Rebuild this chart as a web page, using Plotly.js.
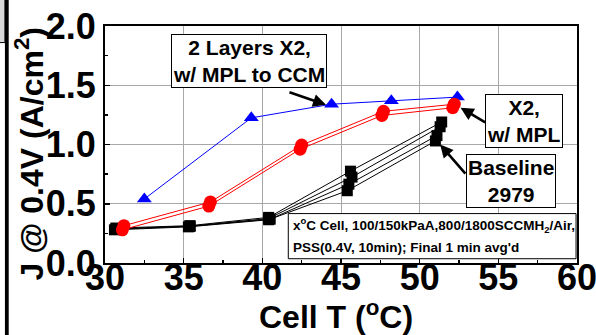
<!DOCTYPE html>
<html>
<head>
<meta charset="utf-8">
<script src="https://cdn.plot.ly/plotly-3.0.1.min.js"></script>
<style>
  html, body { margin: 0; padding: 0; background: #fff; }
  #chart { width: 596px; height: 335px; }
</style>
</head>
<body>
<div id="chart"></div>
<script>
// Current density at 0.4 V versus cell temperature

// 2 Layers X2, w/ MPL to CCM
const ccmT = [32.5, 39.3, 44.4, 48.2, 52.4];
const ccmJ = [0.54, 1.225, 1.34, 1.37, 1.40];

// X2, w/ MPL (two repeat runs)
const mplT1 = [31.2, 36.7, 42.5, 47.7, 52.2];
const mplJ1 = [0.315, 0.515, 0.995, 1.28, 1.34];
const mplT2 = [31.1, 36.6, 42.4, 47.6, 52.1];
const mplJ2 = [0.28, 0.48, 0.96, 1.245, 1.31];

// Baseline 2979 (four runs)
const baseT1 = [30.7, 35.4, 40.4, 45.6, 51.4];
const baseJ1 = [0.295, 0.315, 0.385, 0.775, 1.19];
const baseT2 = [30.7, 35.4, 40.4, 45.7, 51.3];
const baseJ2 = [0.29, 0.31, 0.375, 0.725, 1.15];
const baseT3 = [30.7, 35.4, 40.5, 45.5, 51.1];
const baseJ3 = [0.285, 0.31, 0.37, 0.665, 1.075];
const baseT4 = [30.6, 35.3, 40.4, 45.4, 51.0];
const baseJ4 = [0.28, 0.305, 0.365, 0.61, 1.03];

const xTickVals = [30, 35, 40, 45, 50, 55, 60];
const xTickText = ['30', '35', '40', '45', '50', '55', '60'];
const yTickVals = [0, 0.5, 1.0, 1.5, 2.0];
const yTickText = ['0.0', '0.5', '1.0', '1.5', '2.0'];

const FONT = 'Liberation Sans, Arial, Helvetica, sans-serif';
const NARROW = 'Liberation Sans Narrow, Arial Narrow, Liberation Sans, sans-serif';

function baseTrace(x, y) {
  return {
    x: x, y: y, type: 'scatter', mode: 'lines+markers',
    line: { color: '#000000', width: 1 },
    marker: { symbol: 'square', size: 11, color: '#000000' },
    hoverinfo: 'x+y', showlegend: false
  };
}
function mplTrace(x, y) {
  return {
    x: x, y: y, type: 'scatter', mode: 'lines+markers',
    line: { color: '#ff0000', width: 1 },
    marker: { symbol: 'circle', size: 13, color: '#ff0000' },
    hoverinfo: 'x+y', showlegend: false
  };
}

const traces = [
  baseTrace(baseT1, baseJ1),
  baseTrace(baseT2, baseJ2),
  baseTrace(baseT3, baseJ3),
  baseTrace(baseT4, baseJ4),
  {
    x: ccmT, y: ccmJ, type: 'scatter', mode: 'lines+markers',
    line: { color: '#0000ff', width: 1 },
    marker: { symbol: 'triangle-up', size: 13, color: '#0000ff' },
    hoverinfo: 'x+y', showlegend: false
  },
  mplTrace(mplT1, mplJ1),
  mplTrace(mplT2, mplJ2)
];

const labelFont = { family: FONT, size: 21, color: '#000', weight: 'bold' };
const noteFont = { family: FONT, size: 13.5, color: '#000', weight: 'bold' };
const axisFont = { family: NARROW, size: 36, color: '#000', weight: 'bold' };
const titleFont = { family: NARROW, size: 32, color: '#000', weight: 'bold' };

function box(x, y, text) {
  return {
    xref: 'x', yref: 'y', x: x, y: y, text: text, showarrow: false,
    font: labelFont, align: 'center', bgcolor: '#ffffff',
    bordercolor: '#000000', borderwidth: 1, borderpad: 1
  };
}
function arrow(x, y, ax, ay) {
  return {
    xref: 'x', yref: 'y', axref: 'x', ayref: 'y',
    x: x, y: y, ax: ax, ay: ay, text: '', showarrow: true,
    arrowhead: 2, arrowsize: 1, arrowwidth: 2.6, arrowcolor: '#000000', standoff: 0
  };
}

const layout = {
  width: 596, height: 335,
  margin: { l: 105, r: 19, t: 26, b: 72, pad: 0 },
  paper_bgcolor: '#ffffff', plot_bgcolor: '#ffffff',
  font: { family: FONT, color: '#000' },
  showlegend: false,
  xaxis: {
    range: [30, 60], tickmode: 'array', tickvals: xTickVals, ticktext: xTickText,
    ticks: 'inside', ticklen: 5, tickwidth: 1.5, tickcolor: '#000',
    showline: true, linecolor: '#000', linewidth: 2, mirror: true,
    showgrid: true, gridcolor: '#a8a8a8', gridwidth: 1, zeroline: false,
    tickfont: axisFont, ticklabelstandoff: -18, ticklabeloverflow: 'allow',
    minor: { dtick: 2.5, tick0: 30, ticks: 'inside', ticklen: 3, tickcolor: '#000', showgrid: false },
    automargin: false
  },
  yaxis: {
    range: [0, 2.0], tickmode: 'array', tickvals: yTickVals, ticktext: yTickText,
    ticks: 'inside', ticklen: 5, tickwidth: 1.5, tickcolor: '#000',
    showline: true, linecolor: '#000', linewidth: 2, mirror: true,
    showgrid: true, gridcolor: '#a8a8a8', gridwidth: 1, zeroline: false,
    tickfont: axisFont, ticklabeloverflow: 'allow',
    minor: { dtick: 0.25, tick0: 0, ticks: 'inside', ticklen: 3, tickcolor: '#000', showgrid: false },
    automargin: false
  },
  shapes: [
    // test-conditions box
    { type: 'rect', xref: 'x', yref: 'y', x0: 41.65, x1: 59.94, y0: 0.036, y1: 0.417,
      line: { color: '#000', width: 1 }, fillcolor: '#ffffff', layer: 'above' },
    // page edge marks on the left
    { type: 'rect', xref: 'paper', yref: 'paper', x0: -0.225, x1: -0.212, y0: 0.93, y1: 1.2,
      line: { color: '#000', width: 1 }, fillcolor: '#d8d8d8' },
    { type: 'rect', xref: 'paper', yref: 'paper', x0: -0.212, x1: -0.204, y0: -0.35, y1: 1.2,
      line: { width: 0 }, fillcolor: '#000' }
  ],
  annotations: [
    // axis titles
    { xref: 'paper', yref: 'paper', x: -0.16, y: 0.464, xanchor: 'center', yanchor: 'middle',
      textangle: -90, showarrow: false, text: 'J @ 0.4V (A/cm<sup>2</sup>)', font: titleFont },
    { xref: 'paper', yref: 'paper', x: 0.49, y: -0.219, xanchor: 'center', yanchor: 'middle',
      showarrow: false, text: 'Cell T (<sup>o</sup>C)', font: titleFont },
    box(39.15, 1.703, '2 Layers X2,<br>w/ MPL to CCM'),
    arrow(44.05, 1.335, 41.63, 1.445),
    box(56.66, 1.196, 'X2,<br>w/ MPL'),
    arrow(52.6, 1.31, 54.26, 1.18),
    box(55.78, 0.695, 'Baseline<br>2979'),
    arrow(51.3, 1.0, 52.99, 0.742),
    { xref: 'x', yref: 'y', x: 41.85, y: 0.32, xanchor: 'left', showarrow: false,
      text: 'x<sup>o</sup>C Cell, 100/150kPaA,800/1800SCCMH<sub>2</sub>/Air,', font: noteFont },
    { xref: 'x', yref: 'y', x: 41.85, y: 0.135, xanchor: 'left', showarrow: false,
      text: "PSS(0.4V, 10min); Final 1 min avg'd", font: noteFont }
  ]
};

Plotly.newPlot('chart', traces, layout, { staticPlot: true, displayModeBar: false });
</script>
</body>
</html>
